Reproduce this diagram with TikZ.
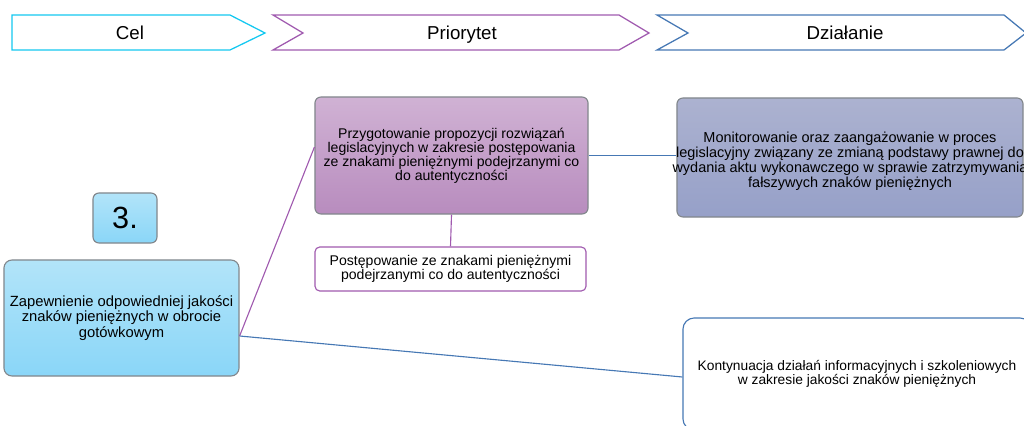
\documentclass[tikz,border=0pt]{standalone}
\usepackage{fontspec}
\setmainfont{Liberation Sans}
\definecolor{celcyan}{RGB}{20,200,240}
\definecolor{priopurple}{RGB}{160,90,175}
\definecolor{dzialblue}{RGB}{70,120,180}
\definecolor{boxgray}{RGB}{130,135,140}
\definecolor{bluetop}{RGB}{178,228,249}
\definecolor{bluebot}{RGB}{138,214,248}
\definecolor{purptop}{RGB}{208,178,212}
\definecolor{purpbot}{RGB}{184,140,190}
\definecolor{montop}{RGB}{172,178,208}
\definecolor{monbot}{RGB}{150,160,200}
\begin{document}
\begin{tikzpicture}[x=0.025cm,y=-0.025cm,
  box/.style={draw=boxgray, rounded corners=0.15cm, line width=0.8pt, inner sep=0pt, align=center},
  head/.style={font=\fontsize{13.3}{14}\selectfont, anchor=base},
  txt/.style={font=\fontsize{10}{10}\selectfont, align=center}]
\useasboundingbox (0,0) rectangle (1024,426);
% naglowki
\draw[celcyan, line width=0.9pt] (12,15)--(230,15)--(265,33)--(230,50)--(12,50)--cycle;
\draw[priopurple, line width=0.9pt] (273,15)--(619,15)--(649,33)--(619,50)--(273,50)--(303,33)--cycle;
\draw[dzialblue, line width=0.9pt] (657,15)--(1004,15)--(1026,33)--(1004,50)--(657,50)--(688,33)--cycle;
\node[head] (cel) at (130,39.5) {Cel};
\node[head] (prio) at (462,39.5) {Priorytet};
\node[head] (dzial) at (845,39.5) {Działanie};
% cel
\node[box, top color=bluetop, bottom color=bluebot, minimum width=1.6cm, minimum height=1.25cm,
  font=\fontsize{21.8}{22}\selectfont] (nr) at (125,218) {3.};
\node[box, rounded corners=0.2cm, top color=bluetop, bottom color=bluebot, minimum width=5.875cm, minimum height=2.9cm,
  font=\fontsize{10.5}{11}\selectfont] (zap) at (121.5,318) {Zapewnienie odpowiedniej jakości\\znaków pieniężnych w obrocie\\gotówkowym};
% priorytet
\node[box, top color=purptop, bottom color=purpbot, minimum width=6.825cm, minimum height=2.925cm,
  font=\fontsize{10}{10}\selectfont] (przyg) at (451.5,155.5) {Przygotowanie propozycji rozwiązań\\legislacyjnych w zakresie postępowania\\ze znakami pieniężnymi podejrzanymi co\\do autentyczności};
\node[box, draw=priopurple, fill=white, rounded corners=0.12cm, minimum width=6.775cm, minimum height=1.1cm,
  font=\fontsize{10}{9.6}\selectfont] (post) at (450.5,269) {Postępowanie ze znakami pieniężnymi\\podejrzanymi co do autentyczności};
% dzialanie
\node[box, top color=montop, bottom color=monbot, minimum width=8.65cm, minimum height=2.975cm] (mon) at (850,157.5) {};
\node[txt, font=\fontsize{10.3}{9.6}\selectfont] (montxt) at (850,161) {Monitorowanie oraz zaangażowanie w proces\\legislacyjny związany ze zmianą podstawy prawnej do\\wydania aktu wykonawczego w sprawie zatrzymywania\\fałszywych znaków pieniężnych};
\node[box, draw=dzialblue, fill=white, rounded corners=0.28cm, minimum width=8.7cm, minimum height=2.8cm,
  font=\fontsize{9.8}{10.2}\selectfont] (kont) at (857,374) {Kontynuacja działań informacyjnych i szkoleniowych\\w zakresie jakości znaków pieniężnych};
% polaczenia
\coordinate (zapout) at ([yshift=-0.45cm]zap.east);
\draw[priopurple, line width=0.8pt] (zapout) -- ([yshift=0.21cm]przyg.west);
\draw[dzialblue, line width=0.8pt] (zapout) -- ([yshift=-0.075cm]kont.west);
\draw[dzialblue, line width=0.8pt] (przyg.east) -- (przyg.east -| mon.west);
\draw[priopurple, line width=0.8pt] (przyg.south) -- (post.north);
\end{tikzpicture}
\end{document}
